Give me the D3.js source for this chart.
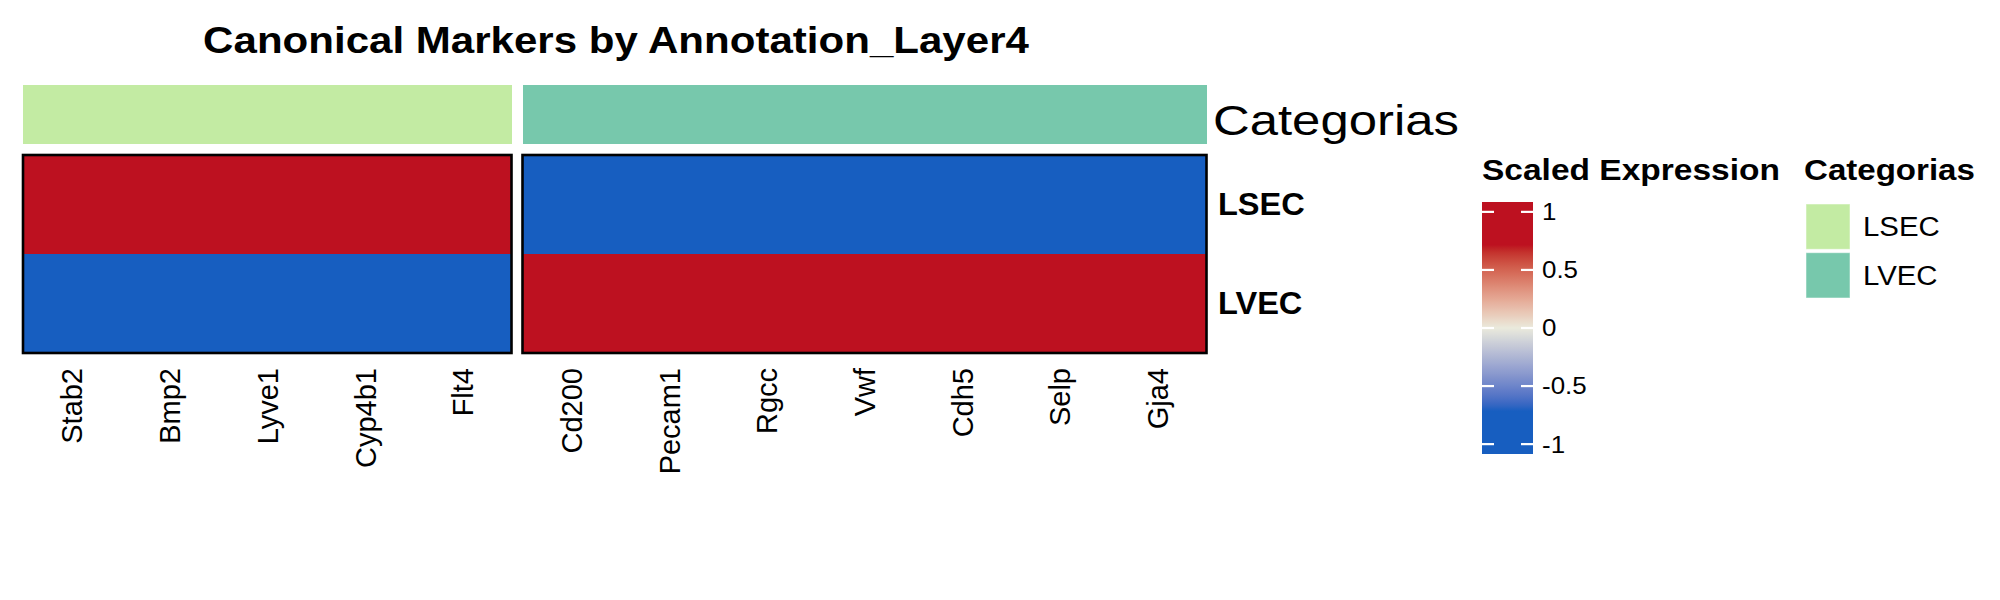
<!DOCTYPE html>
<html><head><meta charset="utf-8">
<script src="https://cdn.jsdelivr.net/npm/d3@7"></script>
<style>
body{margin:0;background:#fff}
svg{display:block}
text{font-family:"Liberation Sans",Arial,Helvetica,sans-serif;fill:#000}
</style>
</head><body>
<svg id="c" width="2000" height="600"></svg>
<script>
// ---- data ----
const chartTitle = "Canonical Markers by Annotation_Layer4";
const rowCategories = ["LSEC", "LVEC"];
const genesLSEC = ["Stab2", "Bmp2", "Lyve1", "Cyp4b1", "Flt4"];
const genesLVEC = ["Cd200", "Pecam1", "Rgcc", "Vwf", "Cdh5", "Selp", "Gja4"];
const valuesRowLSEC = [0.71, 0.71, 0.71, 0.71, 0.71, -0.71, -0.71, -0.71, -0.71, -0.71, -0.71, -0.71];
const valuesRowLVEC = [-0.71, -0.71, -0.71, -0.71, -0.71, 0.71, 0.71, 0.71, 0.71, 0.71, 0.71, 0.71];
const legendTicks = [1, 0.5, 0, -0.5, -1];
const legendTickLabels = ["1", "0.5", "0", "-0.5", "-1"];
const legendRange = [-1.085, 1.085];
const colorBreaks = [-0.71, 0, 0.71];
const colorPalette = ["#175EC0", "#EAEADC", "#BD1120"];
const annotationColors = ["#C3EBA3", "#77C8AC"];
const annotationName = "Categorias";
const colorLegendTitle = "Scaled Expression";

// ---- setup ----
const svg = d3.select("#c");
const color = d3.scaleLinear().domain(colorBreaks).range(colorPalette)
  .interpolate(d3.interpolateLab).clamp(true);
const annotColor = d3.scaleOrdinal().domain(rowCategories).range(annotationColors);

const allGenes = genesLSEC.concat(genesLVEC);
const matrix = [valuesRowLSEC, valuesRowLVEC];

const blocks = [
  {cat: "LSEC", genes: genesLSEC, x: d3.scaleBand().domain(genesLSEC).range([23, 511.5])},
  {cat: "LVEC", genes: genesLVEC, x: d3.scaleBand().domain(genesLVEC).range([522.5, 1206.5])}
];
const y = d3.scaleBand().domain(rowCategories).range([155, 353]);
const annotY = [85, 144];

function label(parent, str, x, yy, o) {
  const t = parent.append("text")
    .attr("font-size", o.size)
    .attr("font-weight", o.weight || "normal")
    .attr("text-anchor", o.anchor || "start")
    .attr("dy", o.dy || 0)
    .text(str);
  let sx = o.sx || 1;
  if (o.target) {
    const w = t.node().getComputedTextLength();
    if (w > 0) sx = o.target / w;
  }
  t.attr("transform", `translate(${x},${yy}) scale(${sx},1)` + (o.rot ? ` rotate(${o.rot})` : ""));
  return t;
}

// ---- title ----
label(svg, chartTitle, 616, 53, {size: 36, weight: "bold", anchor: "middle", target: 826});

// ---- annotation bar + heatmap ----
blocks.forEach(b => {
  const bw = b.x.bandwidth();
  const g = svg.append("g");
  const cells = g.append("g").attr("shape-rendering", "crispEdges");
  // annotation
  cells.selectAll("rect.annot").data(b.genes).join("rect")
    .attr("x", d => b.x(d)).attr("y", annotY[0])
    .attr("width", d => bw + (d === b.genes[b.genes.length - 1] ? 0 : 1))
    .attr("height", annotY[1] - annotY[0])
    .attr("fill", annotColor(b.cat));
  // cells
  rowCategories.forEach((r, ri) => {
    cells.selectAll(null).data(b.genes).join("rect")
      .attr("x", d => b.x(d)).attr("y", y(r))
      .attr("width", d => bw + (d === b.genes[b.genes.length - 1] ? 0 : 1))
      .attr("height", y.bandwidth() + (ri === 0 ? 1 : 0))
      .attr("fill", d => color(matrix[ri][allGenes.indexOf(d)]));
  });
  // border
  const [x0, x1] = b.x.range();
  g.append("rect").attr("x", x0).attr("y", y.range()[0])
    .attr("width", x1 - x0).attr("height", y.range()[1] - y.range()[0])
    .attr("fill", "none").attr("stroke", "#000").attr("stroke-width", 2.6);
  // column labels
  b.genes.forEach(gn => {
    label(g, gn, b.x(gn) + bw / 2, 368, {size: 29, anchor: "end", dy: "0.35em", rot: -90, sx: 1.04});
  });
});

// row labels
rowCategories.forEach(r => {
  label(svg, r, 1218, y(r) + y.bandwidth() / 2, {size: 31, weight: "bold", dy: "0.35em", sx: 1.05});
});
// annotation name
label(svg, annotationName, 1213, 135, {size: 42, target: 246});

// ---- colour legend ----
const leg = svg.append("g");
label(leg, colorLegendTitle, 1482, 180, {size: 30, weight: "bold", target: 298});
const ly = d3.scaleLinear().domain(legendRange).range([454, 202]);
const grad = svg.append("defs").append("linearGradient")
  .attr("id", "cg").attr("x1", 0).attr("y1", 1).attr("x2", 0).attr("y2", 0);
d3.range(0, 101).forEach(i => {
  const t = i / 100;
  const v = legendRange[0] + t * (legendRange[1] - legendRange[0]);
  grad.append("stop").attr("offset", t).attr("stop-color", color(v));
});
leg.append("rect").attr("x", 1482).attr("y", ly(legendRange[1]))
  .attr("width", 51).attr("height", ly(legendRange[0]) - ly(legendRange[1]))
  .attr("fill", "url(#cg)");
legendTicks.forEach((v, i) => {
  leg.append("line").attr("x1", 1482).attr("x2", 1494).attr("y1", ly(v)).attr("y2", ly(v))
    .attr("stroke", "#fff").attr("stroke-width", 2.2);
  leg.append("line").attr("x1", 1521).attr("x2", 1533).attr("y1", ly(v)).attr("y2", ly(v))
    .attr("stroke", "#fff").attr("stroke-width", 2.2);
  label(leg, legendTickLabels[i], 1542, ly(v), {size: 24, dy: "0.35em", sx: 1.08});
});

// ---- category legend ----
const cl = svg.append("g");
label(cl, annotationName, 1804, 180, {size: 30, weight: "bold", target: 171});
const swY = d3.scaleBand().domain(rowCategories).range([204, 298]).paddingInner(0.07);
rowCategories.forEach(r => {
  cl.append("rect").attr("x", 1806).attr("y", swY(r))
    .attr("width", 44).attr("height", swY.bandwidth())
    .attr("fill", annotColor(r)).attr("stroke", "#fff").attr("stroke-opacity", 0.5).attr("stroke-width", 1);
  label(cl, r, 1863, swY(r) + swY.bandwidth() / 2, {size: 28, dy: "0.35em", sx: 1.05});
});
</script>
</body></html>
